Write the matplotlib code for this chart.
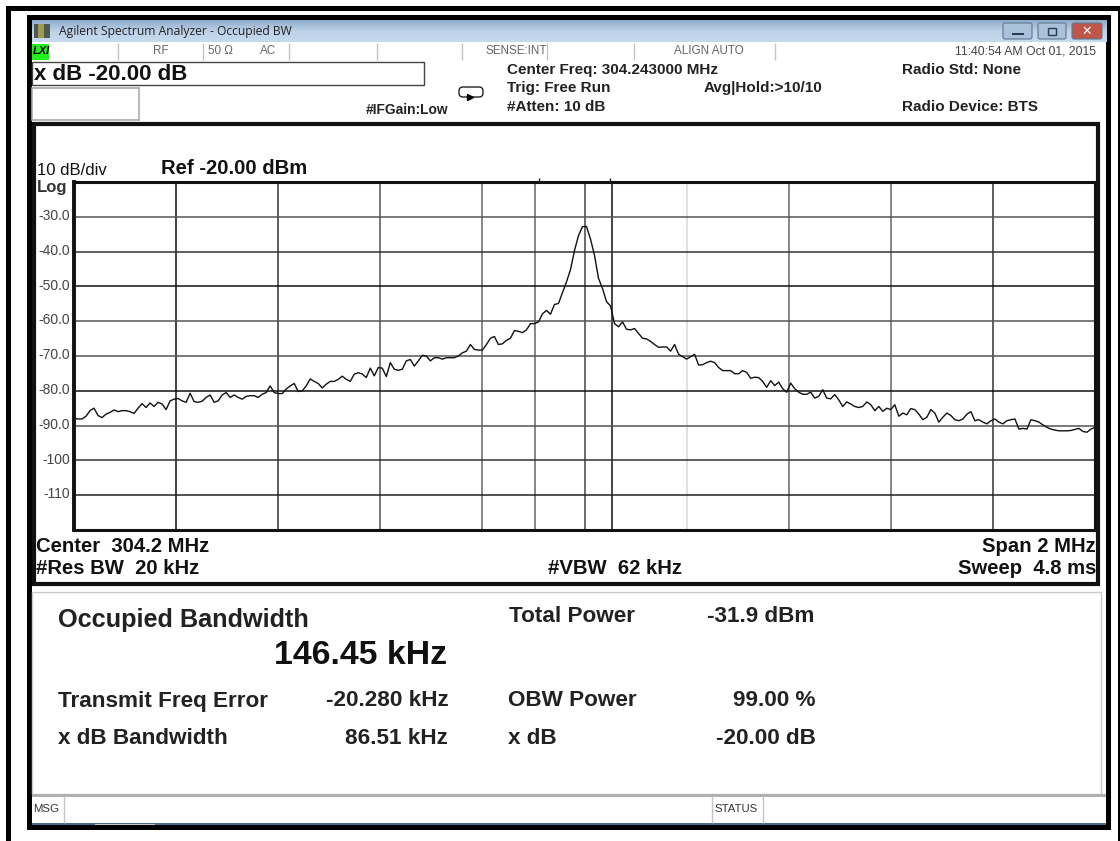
import numpy as np
import matplotlib
matplotlib.use("Agg")
import matplotlib.pyplot as plt
from matplotlib.patches import Rectangle, FancyBboxPatch
from matplotlib.transforms import ScaledTranslation

plt.rcParams['font.family'] = ['Liberation Sans', 'DejaVu Sans']

W, H = 1120, 841

# Trace, dBm across the 2 MHz span
trace_left = [-87.9,-88.1,-88.1,-87.3,-85.7,-85.0,-87.1,-87.7,-86.7,-86.2,-85.5,-86.0,-85.7,-85.7,-86.0,-86.5,-85.0,-83.7,-84.8,-83.5,-84.5,-83.3,-83.8,-85.4,-82.9,-82.4,-82.2,-82.9,-83.3,-80.7,-83.1,-83.3,-83.0,-81.9,-81.2,-83.3,-82.9,-81.2,-80.5,-81.9,-81.2,-81.9,-82.4,
 -81.6,-81.4,-81.4,-81.9,-81.0,-80.5,-78.6,-80.5,-80.8,-80.8,-79.5,-78.6,-77.9,-80.2,-80.0,-78.6,-76.6,-77.3,-77.9,-79.2,-78.1,-77.3,-77.3,-76.7,-75.8,-76.7,-77.3,-75.2,-74.8,-75.2,-76.2,-73.5,-75.7,-73.3,-73.5,-75.9,-71.9,-73.8,-74.1,-73.8,-71.4,-71.0,-72.9,
 -71.4,-69.8,-70.0,-71.4,-70.5,-70.5,-70.9,-70.5,-70.5,-70.5,-70.0,-69.1,-68.6,-66.7,-68.1,-68.3,-68.3,-66.7,-64.9,-64.4,-66.7,-66.5,-65.5,-64.9,-62.7,-62.9,-63.3,-62.5,-60.7,-60.7,-60.2,-57.9,-56.9,-58.0,-55.2,-54.9,-51.8]
trace_peak = [-48.7,-45.2,-39.7,-35.4,-32.8,-32.8,-36.4,-41.1,-47.7,-50.6,-54.4,-55.6]
trace_right = [-60.7,-61.6,-60.2,-62.3,-62.5,-62.1,-63.5,-64.9,-65.1,-65.8,-66.7,-67.5,-67.4,-67.4,-68.6,-66.7,-69.5,-70.2,-70.9,-70.2,-69.5,-72.6,-72.5,-71.9,-71.5,-71.9,-73.3,-74.2,-74.2,-74.2,-75.1,-75.1,-74.2,-74.7,-76.4,-76.1,
 -76.2,-77.3,-79.0,-77.1,-78.5,-77.5,-79.4,-80.4,-77.8,-79.4,-80.4,-81.0,-81.0,-80.4,-82.1,-81.6,-79.7,-82.1,-82.3,-81.1,-82.6,-84.5,-83.2,-83.8,-84.5,-84.8,-84.5,-83.2,-84.0,-85.7,-84.5,-85.9,-85.0,-85.4,-84.0,-87.3,-86.4,-86.9,-85.1,-85.4,-86.7,-88.3,
 -87.6,-85.4,-86.4,-89.0,-87.6,-86.4,-87.1,-88.3,-88.6,-88.1,-86.7,-86.0,-88.6,-88.3,-89.0,-89.5,-88.6,-88.1,-89.0,-89.5,-88.6,-88.3,-88.1,-91.0,-90.8,-91.0,-88.3,-88.6,-89.0,-89.8,-90.5,-91.0,-91.3,-91.5,-91.5,-91.5,-91.4,-91.1,-90.8,-91.7,-91.9,-91.0,-90.5]
trace_dbm = trace_left + trace_peak + trace_right

y_ticks = [-30, -40, -50, -60, -70, -80, -90, -100, -110]
y_tick_labels = ['-30.0', '-40.0', '-50.0', '-60.0', '-70.0', '-80.0', '-90.0', '-100', '-110']
x_grid_mhz = [303.4, 303.6, 303.8, 304.0, 304.103, 304.2, 304.254, 304.4, 304.6, 304.8, 305.0]
x_grid_colors = ['#111111', '#333333', '#555555', '#666666', '#666666', '#444444', '#111111', '#d8d8d8', '#666666', '#666666', '#333333']
y_grid_colors = ['#555555', '#333333', '#111111', '#555555', '#555555', '#111111', '#555555', '#333333', '#222222']
span_start_mhz, span_stop_mhz = 303.2, 305.2
ref_top_db, ref_bottom_db = -20, -120

fig = plt.figure(figsize=(W / 100, H / 100), dpi=100, facecolor='white')

# Overlay in pixel coordinates for the screenshot furniture
bg = fig.add_axes([0, 0, 1, 1])
bg.set_xlim(0, W)
bg.set_ylim(H, 0)
bg.axis('off')

def rect(x0, y0, x1, y1, fc='none', ec='none', lw=0, z=1):
    bg.add_patch(Rectangle((x0, y0), x1 - x0, y1 - y0, facecolor=fc, edgecolor=ec, linewidth=lw, zorder=z))

def vline(x, y0, y1, c='#c4c4c4', lw=1.0, z=3):
    bg.plot([x, x], [y0, y1], color=c, lw=lw, zorder=z, solid_capstyle='butt')

def txt(x, y, s, size=11, weight='normal', ha='left', color='#111111', **kw):
    bg.text(x, y, s, fontsize=size, fontweight=weight, ha=ha, va='center', color=color, zorder=6, **kw)

# Outer and inner black frames
rect(6, 6, W, 10.5, fc='black')
rect(6, 6, 10.5, H, fc='black')
rect(1118, 6, W, H, fc='black')
rect(27, 15, 1110.5, 20.5, fc='black')
rect(27, 15, 31.5, 830, fc='black')
rect(27, 825, 1110.5, 830, fc='black')
rect(1106, 15, 1110.5, 830, fc='black')

# Title bar gradient
grad = np.linspace(0, 1, 64).reshape(-1, 1)
cmap = matplotlib.colors.LinearSegmentedColormap.from_list('t', ['#8fa9c6', '#bdd2e8', '#c6daee'])
bg.imshow(grad, extent=[31.5, 1106, 42, 20.5], aspect='auto', cmap=cmap, zorder=2)
bg.set_xlim(0, W)
bg.set_ylim(H, 0)
rect(34, 24, 50, 38, fc='#4c5a50', z=3)
rect(38, 24, 44, 38, fc='#a09a55', z=3)
txt(59, 31, 'Agilent Spectrum Analyzer - Occupied BW', size=8.7, family=['Open Sans', 'DejaVu Sans'], color='#222222')
for x0, x1, c in [(1002, 1033, '#a9c1da'), (1037, 1067, '#a9c1da'), (1071, 1103, '#c0564a')]:
    bg.add_patch(FancyBboxPatch((x0 + 1, 23), x1 - x0 - 2, 16, boxstyle='round,pad=0,rounding_size=2',
                                facecolor=c, edgecolor='#5f7890', linewidth=0.8, zorder=4))
rect(1012, 33, 1024, 35, fc='#2a3b50', z=5)
rect(1048, 28, 1056, 35, fc='none', ec='#2a3b50', lw=1, z=5)
txt(1087, 31, '✕', size=9, weight='bold', ha='center', color='white', family=['DejaVu Sans'])

# Status row
rect(31.5, 42, 1106, 60, fc='white', z=2)
rect(32, 44, 49, 60, fc='#22ee22', z=3)
txt(33, 51, 'LXI', size=8, weight='bold', style='italic', color='black')
for x in [118, 203, 289, 377, 462, 547, 634, 775]:
    vline(x, 43, 60)
status_gray = '#666666'
txt(161, 51, 'RF', size=8.4, ha='center', color=status_gray)
txt(220, 51, '50 Ω', size=8.4, ha='center', color=status_gray)
txt(268, 51, 'AC', size=8.4, ha='center', color=status_gray)
txt(516, 51, 'SENSE:INT', size=8.4, ha='center', color=status_gray)
txt(709, 51, 'ALIGN AUTO', size=8.4, ha='center', color=status_gray)
txt(1096, 51, '11:40:54 AM Oct 01, 2015', size=8.8, ha='right', color='#444444')

# Entry boxes
rect(32, 61.5, 424, 85, fc='white', ec='#444444', lw=1, z=3)
txt(34, 74, 'x dB -20.00 dB', size=16, weight='bold', color='#111111')
rect(32, 88, 139, 120, fc='white', ec='#aaaaaa', lw=1.2, z=3)
txt(366, 110, '#IFGain:Low', size=9.9, weight='bold', color='#222222')
bg.add_patch(FancyBboxPatch((459, 87), 24, 10, boxstyle='round,pad=0,rounding_size=4',
                            facecolor='white', edgecolor='#222222', linewidth=1, zorder=4))
bg.plot([470], [97], marker='>', color='black', ms=4, zorder=5)

hdr = dict(size=11, weight='bold', color='#222222')
txt(507, 70, 'Center Freq: 304.243000 MHz', **hdr)
txt(507, 88, 'Trig: Free Run', **hdr)
txt(507, 107, '#Atten: 10 dB', **hdr)
txt(704, 88, 'Avg|Hold:>10/10', **hdr)
txt(902, 70, 'Radio Std: None', **hdr)
txt(902, 107, 'Radio Device: BTS', **hdr)

# Plot panel frame
rect(34, 124, 1098, 584, fc='white', ec='#111111', lw=3, z=2)
txt(37, 170, '10 dB/div', size=12)
txt(37, 187, 'Log', size=12, weight='bold', color='#333333')
txt(161, 168, 'Ref -20.00 dBm', size=14.6, weight='bold')
vline(539, 178, 182, c='#222222', z=3)
vline(610, 178, 182, c='#222222', z=3)

ft = dict(size=14.6, weight='bold', color='#111111')
txt(36, 546, 'Center  304.2 MHz', **ft)
txt(36, 569, '#Res BW  20 kHz', **ft)
txt(548, 569, '#VBW  62 kHz', **ft)
txt(1096, 546, 'Span 2 MHz', ha='right', **ft)
txt(1096, 569, 'Sweep  4.8 ms', ha='right', **ft)

# Result panel
rect(32, 592, 1101, 794, fc='white', ec='#c8c8c8', lw=1, z=2)
res = dict(size=16.2, weight='bold', color='#222222')
txt(58, 620, 'Occupied Bandwidth', size=18.2, weight='bold', color='#222222')
txt(274, 656, '146.45 kHz', size=24.4, weight='bold', color='#111111')
txt(509, 617, 'Total Power', **res)
txt(707, 617, '-31.9 dBm', **res)
txt(58, 701, 'Transmit Freq Error', **res)
txt(326, 701, '-20.280 kHz', **res)
txt(508, 701, 'OBW Power', **res)
txt(733, 701, '99.00 %', **res)
txt(58, 738, 'x dB Bandwidth', **res)
txt(345, 738, '86.51 kHz', **res)
txt(508, 738, 'x dB', **res)
txt(716, 738, '-20.00 dB', **res)

# Message bar
rect(31.5, 794, 1106, 796.5, fc='#b0b0b0', z=3)
rect(31.5, 823, 1106, 825, fc='#4a6a8a', z=3)
rect(95, 823.5, 155, 825, fc='#c8c8c8', z=4)
for x in [64, 712, 763]:
    vline(x, 796, 823)
txt(33, 809, 'MSG', size=8.2, color='#333333')
txt(714, 809, 'STATUS', size=8.2, color='#333333')

# Spectrum plot
L, R, T, B = 74, 1095, 182, 530
ax = fig.add_axes([L / W, 1 - B / H, (R - L) / W, (B - T) / H], facecolor='white')
ax.set_xlim(span_start_mhz, span_stop_mhz)
ax.set_ylim(ref_bottom_db, ref_top_db)
for xg, c in zip(x_grid_mhz, x_grid_colors):
    ax.axvline(xg, color=c, lw=1.1, zorder=1)
for yg, c in zip(y_ticks, y_grid_colors):
    ax.axhline(yg, color=c, lw=1.1, zorder=1)
sweep_mhz = np.linspace(span_start_mhz, span_stop_mhz, len(trace_dbm))
ax.plot(sweep_mhz, trace_dbm, color='#111111', lw=1.0, zorder=3)
ax.set_xticks([])
ax.set_yticks(y_ticks)
ax.set_yticklabels(y_tick_labels, fontsize=10, color='#444444')
ax.tick_params(axis='y', length=0, pad=3)
lift = ScaledTranslation(0, 1.6 / 72 * 100 / 100, fig.dpi_scale_trans)
for lbl in ax.get_yticklabels():
    lbl.set_transform(lbl.get_transform() + lift)
for s in ax.spines.values():
    s.set_linewidth(2.2)
    s.set_color('#111111')
ax.spines['left'].set_linewidth(2.8)

fig.savefig('out.png', dpi=100, facecolor='white')
